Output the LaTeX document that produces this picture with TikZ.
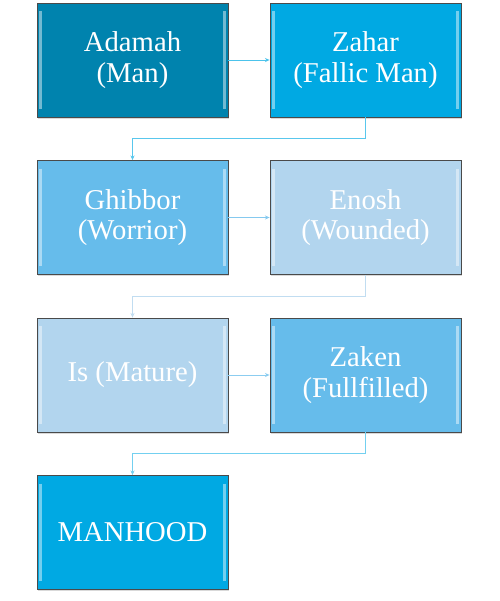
\documentclass[tikz,border=0pt]{standalone}
\usepackage{fontspec}
\setmainfont{Liberation Serif}
\usetikzlibrary{shadows,arrows.meta}

\definecolor{stagedark}{HTML}{0083AE}
\definecolor{stagemid}{HTML}{00A9E3}
\definecolor{stagesoft}{HTML}{66BCEB}
\definecolor{stagepale}{HTML}{B2D5EE}
\definecolor{rimcol}{HTML}{4A4A4A}

\tikzset{
    stage/.style={draw=rimcol, line width=0.7pt, rectangle, minimum width=5.73cm, minimum height=3.42cm,
        text=white, align=center, font=\fontsize{24.5}{26}\selectfont,
        drop shadow={shadow xshift=0.5pt, shadow yshift=-1.5pt, opacity=0.3},
        path picture={
            \draw [white, opacity=0.45, line width=2.2pt]
                ([xshift=3pt, yshift=-7pt]path picture bounding box.north west) --
                ([xshift=3pt, yshift=7pt]path picture bounding box.south west);
            \draw [white, opacity=0.45, line width=2.2pt]
                ([xshift=-3pt, yshift=-7pt]path picture bounding box.north east) --
                ([xshift=-3pt, yshift=7pt]path picture bounding box.south east);
        }},
    link/.style={line width=0.7pt, -{Stealth[length=4pt, width=3.5pt]}}
}

\begin{document}
\begin{tikzpicture}[node distance=4.725cm]
    \useasboundingbox (0,0) rectangle (14.97,-18.03);

    \node [stage, fill=stagedark] (adamah) at (3.975,-1.8) {Adamah\\(Man)};
    \node [stage, fill=stagemid, right of=adamah, xshift=2.265cm] (zahar) {Zahar\\(Fallic Man)};
    \node [stage, fill=stagesoft, below of=adamah] (ghibbor) {Ghibbor\\(Worrior)};
    \node [stage, fill=stagepale, right of=ghibbor, xshift=2.265cm] (enosh) {Enosh\\(Wounded)};
    \node [stage, fill=stagepale, below of=ghibbor] (is) {Is (Mature)};
    \node [stage, fill=stagesoft, right of=is, xshift=2.265cm] (zaken) {Zaken\\(Fullfilled)};
    \node [stage, fill=stagemid, below of=is] (manhood) {MANHOOD};

    \draw [link, color=stagemid!70] (adamah) -- (zahar);
    \draw [link, color=stagemid!65] (zahar.south) -- ++(0,-0.64) -| (ghibbor.north);
    \draw [link, color=stagesoft!80] (ghibbor) -- (enosh);
    \draw [link, color=stagepale!80] (enosh.south) -- ++(0,-0.64) -| (is.north);
    \draw [link, color=stagesoft!75] (is) -- (zaken);
    \draw [link, color=stagemid!55] (zaken.south) -- ++(0,-0.64) -| (manhood.north);
\end{tikzpicture}
\end{document}
